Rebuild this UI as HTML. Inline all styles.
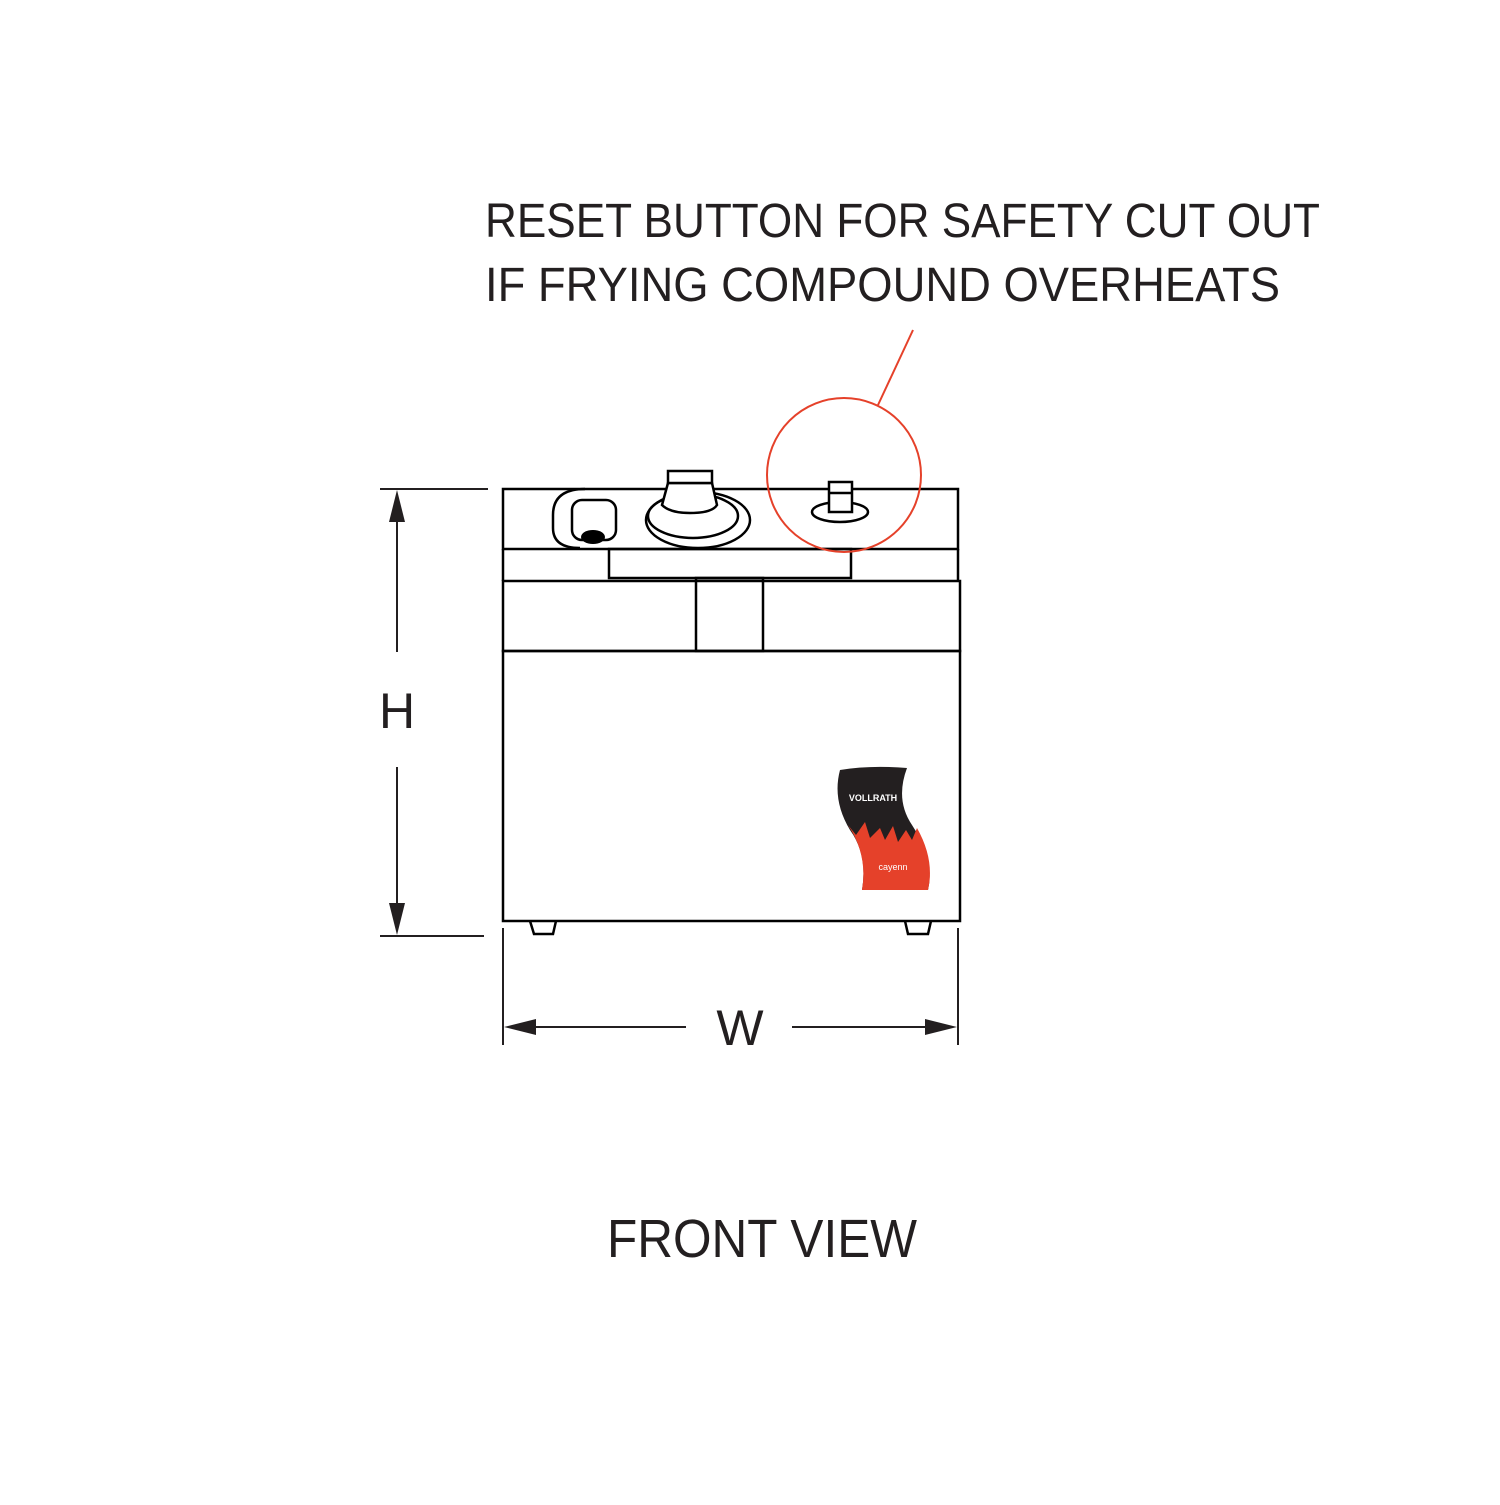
<!DOCTYPE html>
<html><head><style>html,body{margin:0;padding:0;background:#fff}</style></head>
<body>
<svg width="1500" height="1500" viewBox="0 0 1500 1500" xmlns="http://www.w3.org/2000/svg">
<rect width="1500" height="1500" fill="#fff"/>
<g font-family="Liberation Sans, sans-serif" fill="#231f20">
<text x="485" y="237" font-size="48" textLength="835" lengthAdjust="spacingAndGlyphs">RESET BUTTON FOR SAFETY CUT OUT</text>
<text x="485" y="301" font-size="48" textLength="795" lengthAdjust="spacingAndGlyphs">IF FRYING COMPOUND OVERHEATS</text>
<text x="607" y="1257" font-size="54" textLength="310" lengthAdjust="spacingAndGlyphs">FRONT VIEW</text>
<text x="397" y="728" font-size="50" text-anchor="middle">H</text>
<text x="740" y="1045" font-size="50" text-anchor="middle">W</text>
</g>
<g fill="none" stroke="#000" stroke-width="2.5">
<rect x="503" y="489" width="455" height="60"/>
<line x1="503" y1="549" x2="503" y2="581"/><line x1="958" y1="549" x2="958" y2="581"/>
<rect x="609" y="549" width="242" height="29"/>
<rect x="503" y="581" width="457" height="70"/>
<rect x="696" y="578" width="67" height="73"/>
<rect x="503" y="651" width="457" height="270"/>
<path d="M530 921 L534 934 L553 934 L556 921"/>
<path d="M905 921 L908 934 L928 934 L931 921"/>
<!-- left button -->
<path d="M585 489 Q553 489 553 515 L553 528 Q553 548 580 548"/>
<rect x="572" y="500" width="44" height="40" rx="10"/>
<!-- knob -->
<ellipse cx="698" cy="520" rx="52" ry="28"/>
<ellipse cx="693" cy="516" rx="45" ry="22"/>
<path d="M668 483 L662 505 Q670 513 690 513 Q712 513 717 505 L712 483 Z" fill="#fff"/>
<rect x="668" y="471" width="44" height="12" fill="#fff"/>
<!-- reset -->
<ellipse cx="840" cy="512" rx="28" ry="10" fill="#fff"/>
<rect x="829" y="482" width="23" height="30" fill="#fff"/>
<line x1="829" y1="493" x2="852" y2="493"/>
</g>
<ellipse cx="593" cy="537" rx="12" ry="7" fill="#000"/>
<circle cx="844" cy="475" r="77" fill="none" stroke="#e5412a" stroke-width="2"/>
<line x1="913" y1="330" x2="878" y2="405" stroke="#e5412a" stroke-width="2"/>
<!-- dimensions -->
<g stroke="#231f20" stroke-width="2" fill="none">
<line x1="380" y1="489" x2="488" y2="489"/>
<line x1="380" y1="936" x2="484" y2="936"/>
<line x1="397" y1="510" x2="397" y2="652"/>
<line x1="397" y1="767" x2="397" y2="915"/>
<line x1="503" y1="928" x2="503" y2="1045"/>
<line x1="958" y1="928" x2="958" y2="1045"/>
<line x1="525" y1="1027" x2="686" y2="1027"/>
<line x1="792" y1="1027" x2="935" y2="1027"/>
</g>
<g fill="#231f20">
<path d="M397 490 L389 522 L405 522 Z"/>
<path d="M397 935 L389 903 L405 903 Z"/>
<path d="M504 1027 L536 1019 L536 1035 Z"/>
<path d="M957 1027 L925 1019 L925 1035 Z"/>
</g>
<!-- logo -->
<path d="M840 770 Q870 765 907 768 Q895 800 912 825 Q935 860 928 890 L862 890 Q868 855 850 830 Q832 800 840 770 Z" fill="#231f20"/>
<path d="M848 825 L856 835 L865 822 L870 838 L880 828 L885 840 L893 826 L898 842 L906 830 L912 840 L917 828 Q935 860 928 890 L862 890 Q868 855 848 825 Z" fill="#e5412a"/>
<text x="873" y="801" font-family="Liberation Sans, sans-serif" font-size="9" font-weight="bold" fill="#fff" text-anchor="middle">VOLLRATH</text>
<text x="893" y="870" font-family="Liberation Sans, sans-serif" font-size="9" fill="#fff" text-anchor="middle">cayenn</text>
</svg>
</body></html>
